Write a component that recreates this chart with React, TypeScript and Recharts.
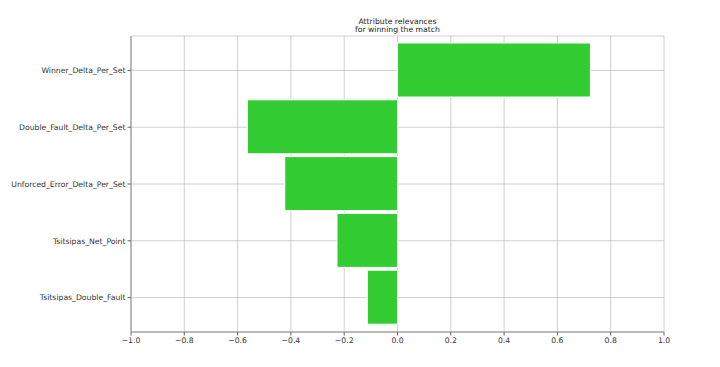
import React from "react";
import { BarChart, Bar, XAxis, YAxis, CartesianGrid } from "recharts";

const categories = [
  "Winner_Delta_Per_Set",
  "Double_Fault_Delta_Per_Set",
  "Unforced_Error_Delta_Per_Set",
  "Tsitsipas_Net_Point",
  "Tsitsipas_Double_Fault",
];
const relevances = [0.724, -0.563, -0.423, -0.227, -0.113];
const xTicks = [-1, -0.8, -0.6, -0.4, -0.2, 0, 0.2, 0.4, 0.6, 0.8, 1];
const titleLines = ["Attribute relevances", "for winning the match"];

const data = categories.map((name, i) => ({ name, value: relevances[i] }));

const FONT = "'DejaVu Sans', sans-serif";
const fmt = (v: number) => v.toFixed(1).replace("-", "\u2212");

export default function App() {
  return (
    <div style={{ position: "absolute", left: 0, top: 0, width: 720, height: 367, background: "#fff" }}>
      <div
        style={{
          position: "absolute",
          left: 131,
          width: 533,
          top: 18,
          textAlign: "center",
          fontFamily: FONT,
          fontSize: 7.7,
          lineHeight: "8.4px",
          color: "#222",
        }}
      >
        {titleLines.map((t) => (
          <div key={t}>{t}</div>
        ))}
      </div>
      <BarChart
        layout="vertical"
        width={720}
        height={367}
        data={data}
        margin={{ top: 36, right: 56, bottom: 0, left: 0 }}
        barCategoryGap={0}
      >
        <XAxis
          type="number"
          dataKey="value"
          domain={[-1, 1]}
          ticks={xTicks}
          tickFormatter={fmt}
          height={35}
          tickSize={3.5}
          tickLine={{ stroke: "#666" }}
          axisLine={{ stroke: "#aaa", strokeWidth: 1.5 }}
          tick={{ fontSize: 7.7, fill: "#333", fontFamily: FONT }}
          allowDataOverflow
        />
        <XAxis
          xAxisId="top"
          orientation="top"
          type="number"
          domain={[-1, 1]}
          height={0}
          tick={false}
          tickLine={false}
          axisLine={{ stroke: "#aaa", strokeWidth: 1.5 }}
        />
        <YAxis
          type="category"
          dataKey="name"
          width={131}
          padding={{ top: 6, bottom: 6 }}
          tickSize={3.5}
          tickLine={{ stroke: "#666" }}
          axisLine={{ stroke: "#aaa", strokeWidth: 1.5 }}
          tick={{ fontSize: 7.7, fill: "#333", fontFamily: FONT }}
          interval={0}
        />
        <YAxis
          yAxisId="right"
          orientation="right"
          type="category"
          dataKey="name"
          width={0}
          tick={false}
          tickLine={false}
          axisLine={{ stroke: "#aaa", strokeWidth: 1.5 }}
        />
        <Bar
          dataKey="value"
          fill="#33cc33"
          stroke="#ffffff"
          strokeWidth={1}
          barSize={54}
          isAnimationActive={false}
        />
        <CartesianGrid stroke="#b0b0b0" strokeOpacity={0.6} />
      </BarChart>
    </div>
  );
}
